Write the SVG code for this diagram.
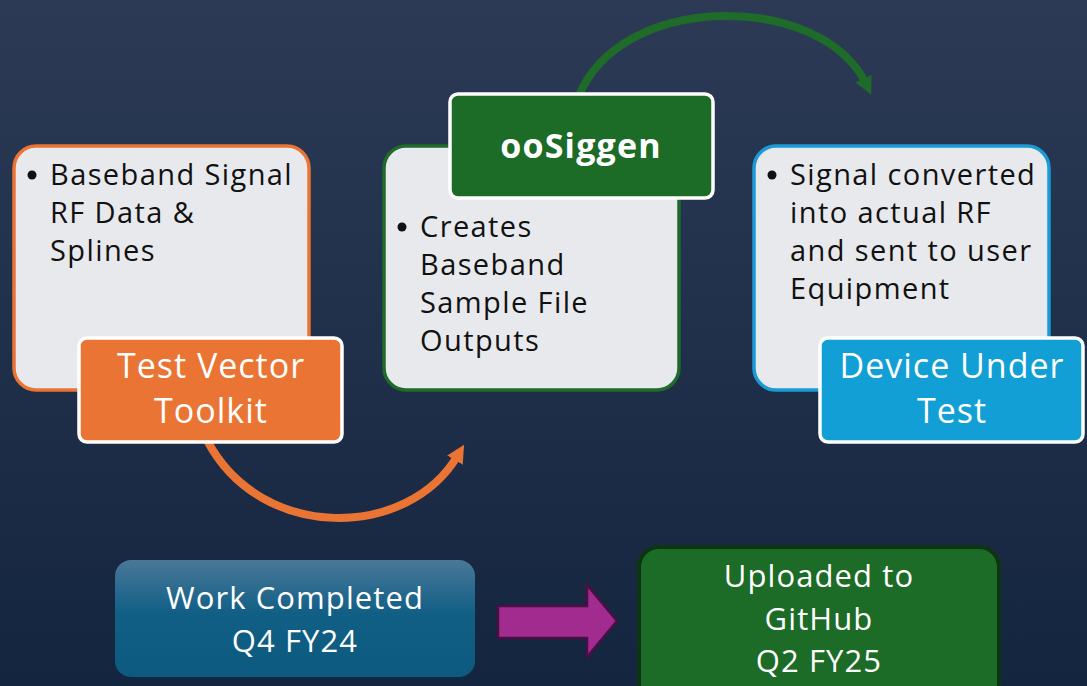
<svg xmlns="http://www.w3.org/2000/svg" width="1087" height="686" viewBox="0 0 1087 686">
<defs>
<linearGradient id="bg" x1="0" y1="0" x2="0" y2="1">
<stop offset="0" stop-color="#2c3a55"/>
<stop offset="1" stop-color="#14253f"/>
</linearGradient>
<linearGradient id="wc" x1="0" y1="0" x2="0" y2="1">
<stop offset="0" stop-color="#4a7898"/>
<stop offset="0.45" stop-color="#125f86"/>
<stop offset="1" stop-color="#0c5a80"/>
</linearGradient>
<marker id="ah-or" markerUnits="userSpaceOnUse" markerWidth="24" markerHeight="24" refX="6" refY="12" orient="auto" viewBox="0 0 24 24">
<path d="M0 3 L18 12 L0 21 Z" fill="#ea7433"/>
</marker>
<marker id="ah-gr" markerUnits="userSpaceOnUse" markerWidth="24" markerHeight="24" refX="6" refY="12" orient="auto" viewBox="0 0 24 24">
<path d="M0 3 L18 12 L0 21 Z" fill="#1e6b2a"/>
</marker>
<style>
.panel{fill:#e8e9ec;stroke-width:3.5}
.body{font-family:"Open Sans","Liberation Sans",sans-serif;font-size:29px;letter-spacing:1.4px;fill:#111}
.lbl{font-family:"Open Sans","Liberation Sans",sans-serif;font-size:34px;letter-spacing:1px;fill:#fff;text-anchor:middle}
.btm{font-family:"Open Sans","Liberation Sans",sans-serif;font-size:31px;letter-spacing:1.1px;fill:#fff;text-anchor:middle}
.tag{stroke:#fff;stroke-width:3.5}
.conn{fill:none;stroke-width:8}
</style>
</defs>
<rect width="1087" height="686" fill="url(#bg)"/>

<g id="connectors">
<path class="conn" stroke="#ea7433" d="M 208 442 C 262 542, 408 540, 458 455" marker-end="url(#ah-or)"/>
<path class="conn" stroke="#1e6b2a" d="M 578 98 C 620 -10, 822 -8, 866 84" marker-end="url(#ah-gr)"/>
</g>

<g id="node-test-vector-toolkit">
<rect class="panel" x="14" y="146" width="295" height="244" rx="22" stroke="#ea7433"/>
<circle cx="32" cy="175" r="4.5" fill="#111"/>
<text class="body" x="50" y="185">Baseband Signal</text>
<text class="body" x="50" y="223">RF Data &amp;</text>
<text class="body" x="50" y="261">Splines</text>
<rect class="tag" x="79" y="338" width="263" height="104" rx="8" fill="#ea7433"/>
<text class="lbl" x="211" y="378">Test Vector</text>
<text class="lbl" x="211" y="423">Toolkit</text>
</g>

<g id="node-oosiggen">
<rect class="panel" x="384" y="146" width="295" height="244" rx="22" stroke="#1e6b2a"/>
<circle cx="402" cy="227" r="4.5" fill="#111"/>
<text class="body" x="420" y="237">Creates</text>
<text class="body" x="420" y="275">Baseband</text>
<text class="body" x="420" y="313">Sample File</text>
<text class="body" x="420" y="351">Outputs</text>
<rect class="tag" x="450" y="94" width="263" height="104" rx="8" fill="#1c6b26"/>
<text x="581" y="158" font-family="'Open Sans','Liberation Sans',sans-serif" font-size="34" font-weight="bold" letter-spacing="1.2" fill="#fff" text-anchor="middle">ooSiggen</text>
</g>

<g id="node-device-under-test">
<rect class="panel" x="754" y="146" width="295" height="244" rx="22" stroke="#1a9ad6"/>
<circle cx="772" cy="175" r="4.5" fill="#111"/>
<text class="body" x="790" y="185">Signal converted</text>
<text class="body" x="790" y="223">into actual RF</text>
<text class="body" x="790" y="261">and sent to user</text>
<text class="body" x="790" y="299">Equipment</text>
<rect class="tag" x="820" y="338" width="263" height="104" rx="8" fill="#119fd6"/>
<text class="lbl" x="952" y="378">Device Under</text>
<text class="lbl" x="952" y="423">Test</text>
</g>

<g id="node-work-completed">
<rect x="115" y="560" width="360" height="117" rx="16" fill="url(#wc)"/>
<text class="btm" x="295" y="609">Work Completed</text>
<text class="btm" x="295" y="652">Q4 FY24</text>
</g>

<g id="node-arrow">
<path d="M 498 606 L 587 606 L 587 585 L 617 621 L 587 657 L 587 638 L 498 638 Z" fill="#a12b8f" stroke="#4a0f45" stroke-width="2.5" stroke-linejoin="miter"/>
</g>

<g id="node-uploaded">
<rect x="639" y="547" width="360" height="160" rx="20" fill="#1c6b26" stroke="#0d3512" stroke-width="4"/>
<text class="btm" x="819" y="587">Uploaded to</text>
<text class="btm" x="819" y="630">GitHub</text>
<text class="btm" x="819" y="672">Q2 FY25</text>
</g>
</svg>
